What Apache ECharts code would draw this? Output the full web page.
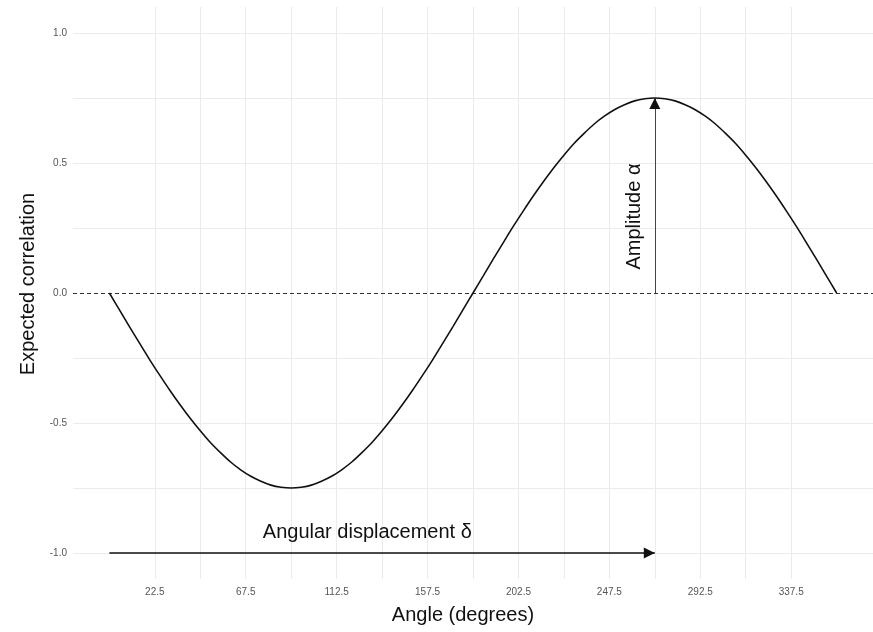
<!DOCTYPE html>
<html>
<head>
<meta charset="utf-8">
<script src="https://cdn.jsdelivr.net/npm/echarts@6/dist/echarts.min.js"></script>
<style>
  html, body { margin: 0; padding: 0; background: #ffffff; }
  #chart { width: 873px; height: 632px; }
</style>
</head>
<body>
<div id="chart"></div>
<script>
// Angle samples (degrees) and the expected correlation read at each one
const angles = [0, 5, 10, 15, 20, 25, 30, 35, 40, 45, 50, 55, 60, 65, 70, 75, 80, 85, 90,
  95, 100, 105, 110, 115, 120, 125, 130, 135, 140, 145, 150, 155, 160, 165, 170, 175, 180,
  185, 190, 195, 200, 205, 210, 215, 220, 225, 230, 235, 240, 245, 250, 255, 260, 265, 270,
  275, 280, 285, 290, 295, 300, 305, 310, 315, 320, 325, 330, 335, 340, 345, 350, 355, 360];
const correlation = [
  0, -0.065, -0.13, -0.194, -0.257, -0.317, -0.375, -0.43, -0.482, -0.53,
  -0.575, -0.614, -0.65, -0.68, -0.705, -0.724, -0.739, -0.747, -0.75,
  -0.747, -0.739, -0.724, -0.705, -0.68, -0.65, -0.614, -0.575, -0.53,
  -0.482, -0.43, -0.375, -0.317, -0.257, -0.194, -0.13, -0.065, 0,
  0.065, 0.13, 0.194, 0.257, 0.317, 0.375, 0.43, 0.482, 0.53,
  0.575, 0.614, 0.65, 0.68, 0.705, 0.724, 0.739, 0.747, 0.75,
  0.747, 0.739, 0.724, 0.705, 0.68, 0.65, 0.614, 0.575, 0.53,
  0.482, 0.43, 0.375, 0.317, 0.257, 0.194, 0.13, 0.065, 0];

// Axis ticks and grid lines
const xTickLabels = [22.5, 67.5, 112.5, 157.5, 202.5, 247.5, 292.5, 337.5];
const xMinorGrid = [45, 90, 135, 180, 225, 270, 315];
const yTickLabels = [-1.0, -0.5, 0.0, 0.5, 1.0];
const yMinorGrid = [-0.75, -0.25, 0.25, 0.75];

// Annotation values: displacement arrow, amplitude arrow
const displacementStart = 0;
const displacementEnd = 270;
const displacementLevel = -1.0;
const amplitudeAngle = 270;
const amplitudeValue = 0.75;

const chart = echarts.init(document.getElementById('chart'), null, { renderer: 'canvas' });

const gridColor = '#ebebeb';
const inkColor = '#111';
const textFont = 'Liberation Sans, Arial, sans-serif';
const headSize = 11;

const gridLines = []
  .concat(xTickLabels.map(v => ({ xAxis: v })))
  .concat(xMinorGrid.map(v => ({ xAxis: v })))
  .concat(yTickLabels.filter(v => v !== 0).map(v => ({ yAxis: v })))
  .concat(yMinorGrid.map(v => ({ yAxis: v })));

const option = {
  backgroundColor: '#ffffff',
  animation: false,
  grid: { left: 73, right: 0, top: 7, bottom: 53, containLabel: false, outerBoundsMode: 'none' },
  xAxis: {
    type: 'value',
    min: -18,
    max: 378,
    name: 'Angle (degrees)',
    nameLocation: 'middle',
    nameGap: 26,
    nameTextStyle: { fontSize: 20, color: inkColor, fontFamily: textFont, padding: [0, 20, 0, 0] },
    axisLine: { show: false },
    axisTick: { show: false },
    splitLine: { show: false },
    axisLabel: {
      customValues: xTickLabels,
      formatter: v => Number(v).toFixed(1),
      fontSize: 10,
      color: '#555',
      fontFamily: textFont,
      margin: 8
    }
  },
  yAxis: {
    type: 'value',
    min: -1.1,
    max: 1.1,
    name: 'Expected correlation',
    nameLocation: 'middle',
    nameGap: 35,
    nameTextStyle: { fontSize: 20, color: inkColor, fontFamily: textFont, padding: [0, 0, 0, 18] },
    axisLine: { show: false },
    axisTick: { show: false },
    splitLine: { show: false },
    axisLabel: {
      customValues: yTickLabels,
      formatter: v => Number(v).toFixed(1),
      fontSize: 10,
      color: '#555',
      fontFamily: textFont,
      margin: 6
    }
  },
  series: [
    {
      // background grid
      type: 'line',
      data: [],
      silent: true,
      z: 1,
      markLine: {
        silent: true,
        symbol: 'none',
        label: { show: false },
        lineStyle: { color: gridColor, type: 'solid', width: 1 },
        data: gridLines
      }
    },
    {
      // dashed zero reference
      type: 'line',
      data: [],
      silent: true,
      z: 2,
      markLine: {
        silent: true,
        symbol: 'none',
        label: { show: false },
        lineStyle: { color: '#333', type: [4, 3], width: 1 },
        data: [{ yAxis: 0 }]
      }
    },
    {
      name: 'Expected correlation',
      type: 'line',
      data: angles.map((a, i) => [a, correlation[i]]),
      smooth: 0.3,
      showSymbol: false,
      z: 5,
      lineStyle: { color: inkColor, width: 1.6 }
    },
    {
      // angular displacement arrow shaft with its label
      type: 'line',
      data: [],
      z: 6,
      markLine: {
        silent: true,
        symbol: 'none',
        label: { show: false },
        lineStyle: { color: inkColor, type: 'solid', width: 1.5 },
        data: [[{ coord: [displacementStart, displacementLevel] }, { coord: [displacementEnd, displacementLevel] }]]
      },
      markPoint: {
        silent: true,
        symbol: 'circle',
        symbolSize: 0,
        label: {
          show: true,
          position: 'inside',
          formatter: 'Angular displacement δ',
          fontSize: 20,
          color: inkColor,
          fontFamily: textFont
        },
        data: [{ coord: [127.7, -0.923] }]
      }
    },
    {
      // amplitude arrow shaft with its label
      type: 'line',
      data: [],
      z: 6,
      markLine: {
        silent: true,
        symbol: 'none',
        label: { show: false },
        lineStyle: { color: '#444', type: 'solid', width: 1 },
        data: [[{ coord: [amplitudeAngle, 0] }, { coord: [amplitudeAngle, amplitudeValue] }]]
      },
      markPoint: {
        silent: true,
        symbol: 'circle',
        symbolSize: 0,
        label: {
          show: true,
          position: 'inside',
          rotate: 90,
          formatter: 'Amplitude α',
          fontSize: 20,
          color: inkColor,
          fontFamily: textFont
        },
        data: [{ coord: [259.9, 0.294] }]
      }
    },
    {
      // arrowheads, tips placed on the arrow end points
      type: 'scatter',
      silent: true,
      z: 7,
      symbol: 'triangle',
      symbolSize: headSize,
      itemStyle: { color: inkColor, opacity: 1 },
      data: [
        { value: [displacementEnd, displacementLevel], symbolRotate: -90, symbolOffset: [-headSize / 2, 0] },
        { value: [amplitudeAngle, amplitudeValue], symbolRotate: 0, symbolOffset: [0, headSize / 2] }
      ]
    }
  ]
};

chart.setOption(option);
</script>
</body>
</html>
